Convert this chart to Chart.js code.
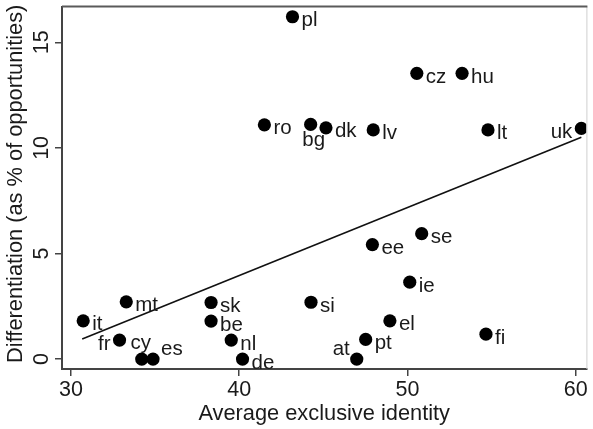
<!DOCTYPE html>
<html>
<head>
<meta charset="utf-8">
<script src="https://cdn.jsdelivr.net/npm/chart.js@4/dist/chart.umd.min.js"></script>
<style>
  html, body { margin: 0; padding: 0; background: #fff; }
  #wrap { width: 593px; height: 429px; }
</style>
</head>
<body>
<div id="wrap"><canvas id="chart" width="593" height="429"></canvas></div>
<script>
// country codes and their values
const countries = ['pl', 'cz', 'hu', 'ro', 'bg', 'dk', 'lv', 'lt', 'uk', 'ee', 'se', 'ie', 'si',
  'el', 'fi', 'pt', 'at', 'it', 'mt', 'fr', 'cy', 'es', 'sk', 'be', 'nl', 'de'];
const exclusiveIdentity = [43.17, 50.56, 53.25, 41.50, 44.25, 45.16, 47.97, 54.79, 60.34, 47.92, 50.85, 50.14, 44.27,
  48.96, 54.67, 47.52, 46.99, 30.73, 33.29, 32.89, 34.21, 34.88, 38.33, 38.33, 39.53, 40.20];
const differentiation = [16.21, 13.53, 13.53, 11.09, 11.11, 10.95, 10.85, 10.85, 10.92, 5.42, 5.94, 3.64, 2.69,
  1.81, 1.18, 0.93, 0, 1.81, 2.71, 0.90, 0, 0, 2.68, 1.80, 0.90, 0];

// fitted line end points
const fitX = [30.67, 60.34];
const fitY = [0.95, 10.5];

const xTicks = [30, 40, 50, 60];
const yTicks = [0, 5, 10, 15];

// label position as clock hour (default 3 = right of marker)
const labelPos = { uk: 9, fr: 9, bg: 6, at: 10, cy: 12, es: 2 };

const FONT = "'Liberation Sans', Arial, Helvetica, sans-serif";
const INK = '#1a1a1a';

const offsets = {
  3: { dx: 9, dy: 9.5, align: 'left' },
  9: { dx: -9, dy: 9.5, align: 'right' },
  6: { dx: 3, dy: 22, align: 'center' },
  10: { dx: -7, dy: -4.5, align: 'right' },
  12: { dx: -1, dy: -10, align: 'center' },
  2: { dx: 8, dy: -4.5, align: 'left' }
};

const markerLabels = {
  id: 'markerLabels',
  afterDatasetsDraw(chart) {
    const ctx = chart.ctx;
    const meta = chart.getDatasetMeta(0);
    ctx.save();
    ctx.font = '20.5px ' + FONT;
    ctx.fillStyle = INK;
    ctx.textBaseline = 'alphabetic';
    meta.data.forEach((pt, i) => {
      const name = countries[i];
      const o = offsets[labelPos[name] || 3];
      ctx.textAlign = o.align;
      ctx.fillText(name, pt.x + o.dx, pt.y + o.dy);
    });
    ctx.restore();
  }
};

// frame on top/right, rotated y tick labels, y title
const frame = {
  id: 'frame',
  afterDraw(chart) {
    const ctx = chart.ctx;
    const a = chart.chartArea;
    ctx.save();
    ctx.strokeStyle = '#cfcfcf';
    ctx.lineWidth = 1;
    ctx.beginPath();
    ctx.moveTo(a.right + 0.5, a.top);
    ctx.lineTo(a.right + 0.5, a.bottom);
    ctx.stroke();
    ctx.strokeStyle = '#5a5a5a';
    ctx.lineWidth = 2;
    ctx.beginPath();
    ctx.moveTo(a.left, a.top);
    ctx.lineTo(a.right + 1, a.top);
    ctx.stroke();

    const ys = chart.scales.y;
    ctx.fillStyle = INK;
    ctx.font = '21.5px ' + FONT;
    ctx.textAlign = 'center';
    ctx.textBaseline = 'alphabetic';
    yTicks.forEach(v => {
      const py = ys.getPixelForValue(v);
      ctx.save();
      ctx.translate(48, py);
      ctx.rotate(-Math.PI / 2);
      ctx.fillText(String(v), 0, 0);
      ctx.restore();
    });
    ctx.font = '21.8px ' + FONT;
    ctx.save();
    ctx.translate(22, (a.top + a.bottom) / 2 - 4);
    ctx.rotate(-Math.PI / 2);
    ctx.fillText('Differentiation (as % of opportunities)', 0, 0);
    ctx.restore();
    ctx.restore();
  }
};

const points = exclusiveIdentity.map((x, i) => ({ x: x, y: differentiation[i] }));
const fitLine = fitX.map((x, i) => ({ x: x, y: fitY[i] }));

new Chart(document.getElementById('chart'), {
  type: 'scatter',
  data: {
    datasets: [
      {
        data: points,
        pointRadius: 6.6,
        pointHoverRadius: 6.6,
        pointBackgroundColor: '#000',
        pointBorderWidth: 0,
        showLine: false
      },
      {
        data: fitLine,
        showLine: true,
        borderColor: '#111',
        borderWidth: 1.6,
        pointRadius: 0,
        fill: false
      }
    ]
  },
  options: {
    responsive: false,
    animation: false,
    events: [],
    layout: { padding: { top: 6, right: 3, left: 0, bottom: 0 } },
    plugins: {
      legend: { display: false },
      tooltip: { enabled: false }
    },
    scales: {
      x: {
        type: 'linear',
        min: 29.47,
        max: 60.64,
        afterBuildTicks: s => { s.ticks = xTicks.map(v => ({ value: v })); },
        afterFit: s => { s.height = 60; },
        grid: { drawOnChartArea: false, drawTicks: true, tickLength: 7, color: '#444', lineWidth: 1.5 },
        border: { display: true, color: '#444', width: 2 },
        ticks: { color: INK, font: { family: FONT, size: 21.5 }, padding: 1, maxRotation: 0 },
        title: {
          display: true,
          text: 'Average exclusive identity',
          color: INK,
          font: { family: FONT, size: 21.8 },
          padding: { top: 0, bottom: 2 }
        }
      },
      y: {
        type: 'linear',
        min: -0.47,
        max: 16.69,
        afterBuildTicks: s => { s.ticks = yTicks.map(v => ({ value: v })); },
        afterFit: s => { s.width = 62; },
        grid: { drawOnChartArea: false, drawTicks: true, tickLength: 7, color: '#444', lineWidth: 1.5 },
        border: { display: true, color: '#444', width: 2 },
        ticks: { display: false }
      }
    }
  },
  plugins: [markerLabels, frame]
});
</script>
</body>
</html>
